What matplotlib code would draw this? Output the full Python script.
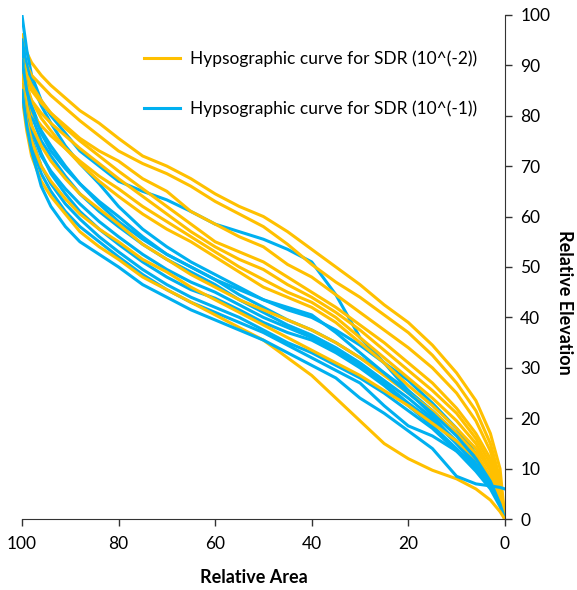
import matplotlib
matplotlib.use("Agg")
import matplotlib.pyplot as plt

# relative area (%) where every curve is sampled
area = [100, 99, 98, 96, 94, 91, 88, 84, 80, 75, 70, 65, 60, 55, 50,
        45, 40, 35, 30, 25, 20, 15, 10, 6, 3, 1, 0]

# relative elevation, SDR 10^(-2)
sdr_2 = [
    [96, 92.5, 90.5, 88, 86, 83.5, 81, 78.5, 75.5, 72, 70, 67.5, 64.5, 62, 60, 57, 53.5, 50, 46.5, 42.5, 39, 34.5, 29, 23.5, 17, 10, 0],
    [93, 90, 88, 86, 84, 81.5, 79, 76, 73, 70.5, 68.5, 66, 63, 60.5, 58, 54.5, 50.5, 47, 44, 40.5, 37, 32.5, 27, 21.5, 15, 8, 0],
    [90, 87, 85, 82.5, 80.5, 78, 75.5, 73, 71, 67.5, 65, 61, 58.5, 56, 54, 50.5, 48, 44.5, 41, 37.5, 34, 30, 25, 19.5, 13.5, 7, 0],
    [92, 88, 86, 83, 80.5, 77.5, 75, 72, 69, 65.5, 62, 58.5, 55, 53, 51, 48, 45, 42, 38.5, 35, 31, 27, 22, 17, 12, 6, 0],
    [89, 85, 83, 80.5, 78.5, 76, 73.5, 70.5, 67.5, 64, 60.5, 57, 54, 51.5, 49.5, 46.5, 44, 41, 37.5, 33.5, 29.5, 25.5, 21, 16, 11, 5.5, 0],
    [87, 83, 80.5, 78, 76, 73.5, 71, 68, 65.5, 62, 59, 56, 53, 50, 47.5, 45, 43, 40, 36, 32, 28, 24, 19.5, 15, 10, 5, 0],
    [91, 86, 83, 79.5, 77, 73.5, 70.5, 67, 64, 60.5, 57.5, 55, 52, 49, 46, 44, 42, 39, 35, 31, 26.5, 22.5, 18, 14, 9.5, 4.5, 0],
    [88, 82, 78, 74, 71, 67.5, 64.5, 61.5, 58.5, 54.5, 51.5, 48.5, 46, 43.5, 41.5, 39.5, 37.5, 35, 32, 28.5, 25, 21.5, 17, 13, 8.5, 4, 0],
    [86, 79, 75, 70, 67, 63.5, 60.5, 57.5, 55, 51.5, 49, 46, 43.5, 41, 38.5, 36, 33.5, 31, 28.5, 25.5, 22.5, 19, 15.5, 12, 8, 4, 0],
    [84, 77, 72, 67, 64, 60.5, 57, 54, 51.5, 48, 45.5, 43, 40.5, 38, 35.5, 32, 28.5, 24, 19.5, 15, 12, 9.7, 8, 6, 3.8, 1.5, 0],
]

# relative elevation, SDR 10^(-1)
sdr_1 = [
    [100, 93, 88, 83, 80, 76.5, 73, 70, 67, 65, 63.3, 61, 58.5, 57, 55.5, 53.5, 51, 44.5, 36, 31, 25.5, 20.5, 15, 10.5, 6.5, 3, 0],
    [95, 90, 86.5, 82, 78.5, 74, 70.5, 66.5, 62, 57.5, 54, 51, 48.5, 46, 43.5, 41.5, 40, 37.5, 34.5, 31, 27.5, 23, 18, 13, 8, 3.5, 0],
    [92, 86, 82, 77, 74, 70, 66.5, 62.5, 59, 55.5, 52.5, 50, 47.5, 44.5, 42, 39.5, 37.5, 35, 32, 29, 25.5, 21.5, 17, 12.5, 8, 3.5, 0],
    [90, 84, 80, 75, 72, 68, 64.5, 61, 58, 54.5, 51.5, 49, 46.5, 43.5, 41, 38.5, 36.5, 34, 31, 27.5, 24, 20, 15.5, 11, 7, 3, 0],
    [88, 81, 77, 72, 69, 65.5, 62.5, 59, 56, 52.5, 49.5, 47, 45, 42.5, 40, 38, 36, 33.5, 30.5, 27, 23, 19.5, 15, 11.5, 7.5, 3.5, 0],
    [93, 83, 78, 72.5, 68.5, 64.5, 61, 57.5, 54.5, 51, 48, 45.5, 43.8, 41.5, 39, 37, 35.5, 33, 30, 26.5, 22.5, 18.5, 14, 10, 6.5, 3, 0],
    [87, 80, 75.5, 70, 66.5, 62.5, 59.5, 56, 53, 49.5, 46.5, 44, 42, 40, 37.5, 35, 33, 30.5, 28, 25, 21.5, 18, 13.5, 9.5, 6, 2.5, 0],
    [86, 79, 74, 68.5, 65, 61, 58, 55, 52, 48.5, 45.5, 43, 41, 39, 37, 34.5, 32, 29.5, 27, 22.5, 18.5, 16.5, 13.5, 10.5, 7, 3, 0],
    [91, 85, 81.5, 76.5, 73, 69.5, 66.5, 63, 60, 56, 52.5, 50, 47.5, 45.5, 43.5, 42, 40.5, 37, 33, 29, 25, 21, 16.5, 12, 7.5, 3, 0],
    [85, 78, 73, 66, 62, 58, 55, 52.5, 50, 46.5, 44, 41.5, 39.5, 37.5, 35.5, 33, 30.5, 28, 24, 21, 17.5, 14, 8.5, 7, 6.6, 6.3, 6],
]

orange = "#FFC000"
blue = "#00B0F0"

plt.rcParams['font.family'] = ['Lato', 'DejaVu Sans']

fig = plt.figure(figsize=(5.77, 5.90), dpi=100)
ax = fig.add_axes([0.038, 0.12, 0.837, 0.855])

for i in range(len(sdr_2)):
    ax.plot(area, sdr_2[i], color=orange, lw=2.2,
            label="Hypsographic curve for SDR (10^(-2))" if i == 0 else None)
    ax.plot(area, sdr_1[i], color=blue, lw=2.2,
            label="Hypsographic curve for SDR (10^(-1))" if i == 0 else None)

ax.set_xlim(100, 0)
ax.set_ylim(0, 100)
ax.set_xticks(range(0, 101, 20))
ax.set_yticks(range(0, 101, 10))

ax.spines['left'].set_visible(False)
ax.spines['top'].set_visible(False)
ax.spines['right'].set_color('#333333')
ax.spines['bottom'].set_color('#333333')
ax.yaxis.tick_right()
ax.yaxis.set_label_position("right")
ax.tick_params(axis='both', direction='out', length=5, width=1, colors='#333333', labelsize=12.5)
ax.tick_params(axis='x', pad=7)
ax.tick_params(axis='y', pad=6)
ax.tick_params(labelcolor='black')

ax.set_xlabel("Relative Area", fontsize=13, fontweight='bold')
ax.set_ylabel("Relative Elevation", fontsize=13, fontweight='bold', rotation=-90, va='center')
ax.xaxis.set_label_coords(0.48, -0.098)
ax.yaxis.set_label_coords(1.124, 0.43)

ax.legend(loc='upper left', bbox_to_anchor=(0.22, 0.96), frameon=False, fontsize=12.5,
          handlelength=2.1, handletextpad=0.55, labelspacing=1.9)

fig.savefig("out.png", dpi=100)
